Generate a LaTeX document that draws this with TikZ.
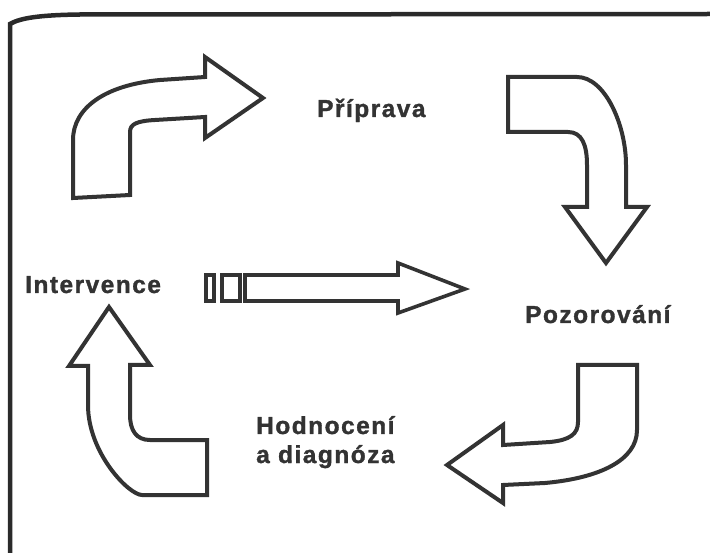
\documentclass[tikz,border=0pt]{standalone}
\usepackage{fontspec}
\usepackage{xcolor}
\usepackage{tikz}
\usetikzlibrary{positioning}
\newfontfamily\CycleFont[LetterSpace=6,BoldFeatures={FakeBold=1.3}]{Liberation Sans}
\definecolor{CycInk}{HTML}{333333}
\definecolor{CycText}{HTML}{333333}
\definecolor{CycFrame}{HTML}{2A2A2A}
\tikzset{
  cycarrow/.style={draw=CycInk,fill=white,line width=4pt,line join=miter},
  cyclabel/.style={inner sep=0pt,anchor=base west,text=CycText,align=left,font=\CycleFont\bfseries\fontsize{24.5}{29}\selectfont}
}

\begin{document}
\begin{tikzpicture}[x=1pt,y=-1pt]
\useasboundingbox (0,0) rectangle (710,553);
\draw[CycFrame,line width=4.5pt] (10,553) -- (10,24) .. controls (20,18) and (40,15) .. (80,14.5) -- (712,14);
\node[cyclabel] (prip) at (317,117) {Příprava};
\node[cyclabel] (pozor) at (525,323) {Pozorování};
\node[cyclabel] (hodn) at (256,463) {Hodnocení\\a diagnóza};
\node[cyclabel] (interv) at (25,293) {Intervence};
\draw[cycarrow] (73,198) -- (130,195) -- (130,132) .. controls (130,124) and (137,121) .. (155,120) -- (205,117) -- (205,138) -- (263,98) -- (205,57) -- (205,77) -- (160,80) .. controls (105,85) and (73,108) .. (73,140) -- cycle;
\draw[cycarrow] (508,77) -- (577,77) .. controls (605,77) and (626,125) .. (626,165) -- (626,207) -- (647,207) -- (606,263) -- (565,207) -- (587,207) -- (587,165) .. controls (587,145) and (582,132) .. (568,132) -- (508,132) -- cycle;
\draw[cycarrow] (578,365) -- (578,422) .. controls (578,434) and (570,440) .. (550,442) -- (503,445) -- (503,425) -- (447,465) -- (503,503) -- (503,485) -- (545,483) .. controls (600,478) and (637,460) .. (637,430) -- (637,365) -- cycle;
\draw[cycarrow] (207,495) -- (142,495) .. controls (129,495) and (88,453) .. (88,405) -- (88,366) -- (69,366) -- (109,307) -- (150,365) -- (130,365) -- (130,415) .. controls (130,430) and (136,440) .. (150,440) -- (207,440) -- cycle;
\draw[cycarrow,line width=3.6pt] (245,275) -- (398,275) -- (398,263) -- (465,289) -- (398,313) -- (398,301) -- (245,301) -- cycle;
\draw[cycarrow,line width=3.6pt] (206,275) rectangle (214,301);
\draw[cycarrow,line width=3.6pt] (222,275) rectangle (240,301);
\end{tikzpicture}
\end{document}
